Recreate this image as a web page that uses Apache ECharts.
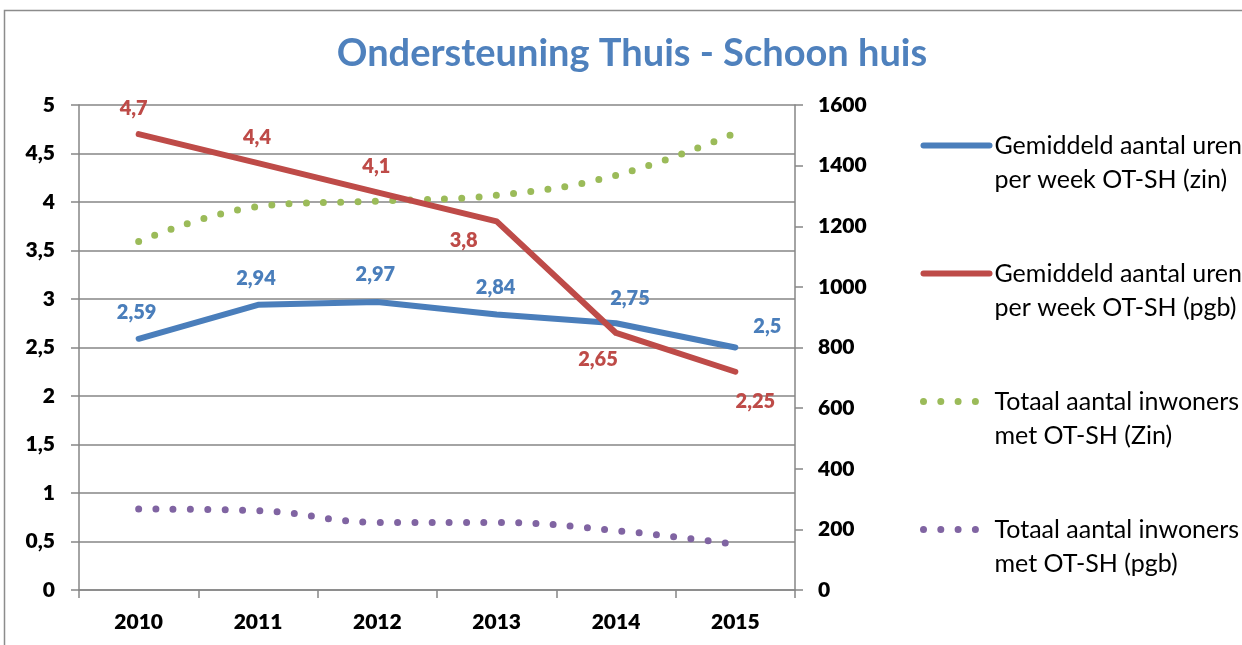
<!DOCTYPE html>
<html>
<head>
<meta charset="utf-8">
<script src="https://cdn.jsdelivr.net/npm/echarts@6/dist/echarts.min.js"></script>
<style>
  html, body { margin: 0; padding: 0; background: #fff; }
  #chart { width: 1242px; height: 645px; }
</style>
</head>
<body>
<div id="chart"></div>
<script>
// gegevens
const jaren = ['2010', '2011', '2012', '2013', '2014', '2015'];
const urenZin = [2.59, 2.94, 2.97, 2.84, 2.75, 2.5];
const urenPgb = [4.7, 4.4, 4.1, 3.8, 2.65, 2.25];
const inwonersZin = [1150, 1265, 1283, 1302, 1368, 1507];
const inwonersPgb = [267, 262, 223, 223, 196, 151];

const namen = [
  'Gemiddeld aantal uren\nper week OT-SH (zin)',
  'Gemiddeld aantal uren\nper week OT-SH (pgb)',
  'Totaal aantal inwoners\nmet OT-SH (Zin)',
  'Totaal aantal inwoners\nmet OT-SH (pgb)'
];

// label verschuivingen t.o.v. het punt (zoals in Excel handmatig geplaatst)
const offsetZin = [[-2, -26], [-2, -26], [-2, -27], [-1, -27], [14, -25], [32, -21]];
const offsetPgb = [[-5, -26], [-1, -26], [-1, -26], [-33, 19], [-18, 27], [20, 30]];

const blauw = '#4a7ebb';
const rood = '#be4b48';
const groen = '#9bbb59';
const paars = '#8064a2';
const font = 'Lato';

const komma = v => String(v).replace('.', ',');

const metLabels = (values, offsets) => values.map((v, i) => ({
  value: v,
  label: { offset: offsets[i] }
}));

const labelStyle = color => ({
  show: true,
  position: 'inside',
  color: color,
  fontFamily: font,
  fontWeight: 800,
  fontSize: 20,
  formatter: p => komma(p.value)
});

// legenda: icoon op hoogte van de eerste regel
const legendaTekst = name => {
  const regels = name.split('\n');
  return '{p|}\n' + regels.map(r => '{t|' + r + '}').join('\n');
};

const chart = echarts.init(document.getElementById('chart'), null, { renderer: 'canvas' });

const as = {
  axisLine: { show: true, lineStyle: { color: '#868686', width: 1.5 } },
  axisTick: { show: true, length: 8, lineStyle: { color: '#868686', width: 1.5 } }
};
const asLabel = { color: '#000', fontFamily: font, fontWeight: 800, fontSize: 21 };

const option = {
  animation: false,
  backgroundColor: '#fff',
  title: {
    text: 'Ondersteuning Thuis - Schoon huis',
    left: 627,
    textAlign: 'center',
    top: 30,
    textStyle: { color: '#4f81bd', fontFamily: font, fontWeight: 'bold', fontSize: 38 }
  },
  graphic: [{
    type: 'rect',
    shape: { x: 4.5, y: 10.5, width: 1400, height: 800 },
    style: { fill: 'none', stroke: '#8c8c8c', lineWidth: 1.5 },
    silent: true
  }],
  legend: {
    orient: 'vertical',
    left: 920,
    top: 111,
    padding: 0,
    itemWidth: 66,
    itemHeight: 14,
    itemGap: 47,
    itemStyle: { color: 'rgba(0,0,0,0)', borderWidth: 0 },
    formatter: legendaTekst,
    textStyle: {
      fontFamily: font,
      fontSize: 25,
      color: '#000',
      rich: {
        p: { lineHeight: 34, fontSize: 1 },
        t: { fontFamily: font, fontSize: 25, color: '#000', lineHeight: 34 }
      }
    },
    data: [
      { name: namen[0], lineStyle: { width: 6, cap: 'round', type: 'solid' } },
      { name: namen[1], lineStyle: { width: 6, cap: 'round', type: 'solid' } },
      { name: namen[2], lineStyle: { width: 7, cap: 'round', type: [0, 17.3] } },
      { name: namen[3], lineStyle: { width: 7, cap: 'round', type: [0, 17.3] } }
    ]
  },
  grid: { left: 79, right: 447, top: 105, bottom: 55 },
  xAxis: {
    type: 'category',
    data: jaren,
    boundaryGap: true,
    axisLine: as.axisLine,
    axisTick: as.axisTick,
    axisLabel: Object.assign({ margin: 22 }, asLabel)
  },
  yAxis: [{
    type: 'value',
    min: 0, max: 5, interval: 0.5,
    position: 'left',
    axisLine: as.axisLine,
    axisTick: as.axisTick,
    splitLine: { lineStyle: { color: '#868686', width: 1.5 } },
    axisLabel: Object.assign({ margin: 24, formatter: komma }, asLabel)
  }, {
    type: 'value',
    min: 0, max: 1600, interval: 200,
    position: 'right',
    axisLine: as.axisLine,
    axisTick: as.axisTick,
    splitLine: { show: false },
    axisLabel: Object.assign({ margin: 23, formatter: v => String(v) }, asLabel)
  }],
  series: [{
    name: namen[0],
    type: 'line',
    yAxisIndex: 0,
    data: metLabels(urenZin, offsetZin),
    symbol: 'circle',
    symbolSize: 1,
    showSymbol: true,
    itemStyle: { color: 'rgba(0,0,0,0)' },
    lineStyle: { color: blauw, width: 6, cap: 'round', join: 'round' },
    label: labelStyle(blauw),
    z: 3
  }, {
    name: namen[1],
    type: 'line',
    yAxisIndex: 0,
    data: metLabels(urenPgb, offsetPgb),
    symbol: 'circle',
    symbolSize: 1,
    showSymbol: true,
    itemStyle: { color: 'rgba(0,0,0,0)' },
    lineStyle: { color: rood, width: 6, cap: 'round', join: 'round' },
    label: labelStyle(rood),
    z: 4
  }, {
    name: namen[2],
    type: 'line',
    yAxisIndex: 1,
    data: inwonersZin,
    symbol: 'none',
    smooth: 0.4,
    color: groen,
    lineStyle: { color: groen, width: 7, cap: 'round', type: [0, 17.3] },
    z: 2
  }, {
    name: namen[3],
    type: 'line',
    yAxisIndex: 1,
    data: inwonersPgb,
    symbol: 'none',
    smooth: 0.4,
    color: paars,
    lineStyle: { color: paars, width: 7, cap: 'round', type: [0, 17.3] },
    z: 2
  }]
};

chart.setOption(option);
</script>
</body>
</html>
